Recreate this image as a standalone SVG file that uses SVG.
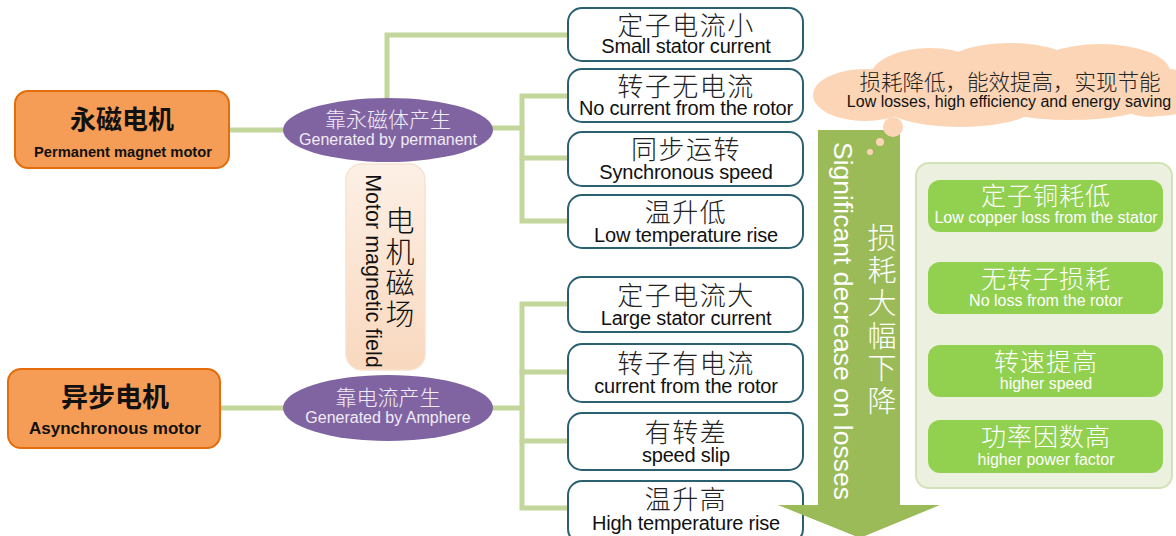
<svg xmlns="http://www.w3.org/2000/svg" width="1176" height="536" viewBox="0 0 1176 536">
<style>
.conn{fill:none;stroke:#C3D69B;stroke-width:5;stroke-linecap:round}
.motor{fill:#F59D56;stroke:#E46C0A;stroke-width:2}
.mzh{font-family:"Noto Sans CJK SC",sans-serif;font-weight:bold;fill:#111;text-anchor:middle}
.men{font-family:"Liberation Sans",Arial,sans-serif;font-weight:bold;fill:#111;text-anchor:middle}
.ell{fill:#8064A2}
.ezh{font-family:"Noto Sans CJK SC",sans-serif;font-weight:300;font-size:21px;fill:#F2ECF7;text-anchor:middle}
.een{font-family:"Liberation Sans",Arial,sans-serif;font-size:16px;fill:#F2ECF7;text-anchor:middle}
.box{fill:#fff;stroke:#2B6070;stroke-width:2}
.bzh{font-family:"Noto Sans CJK SC",sans-serif;font-weight:300;font-size:26px;letter-spacing:1.5px;fill:#222;text-anchor:middle}
.ben{font-family:"Liberation Sans",Arial,sans-serif;font-size:20px;fill:#111;text-anchor:middle;letter-spacing:-0.2px}
.gbox{fill:#92D050}
.gzh{font-family:"Noto Sans CJK SC",sans-serif;font-weight:300;font-size:25px;letter-spacing:1px;fill:#fff;text-anchor:middle}
.gen{font-family:"Liberation Sans",Arial,sans-serif;font-size:16px;fill:#fff;text-anchor:middle}
.cloud{fill:#FBD5B5}
.vzh{font-family:"Noto Sans CJK SC",sans-serif;font-weight:300;text-anchor:middle;writing-mode:vertical-rl}
</style>
<defs>
<linearGradient id="peach" x1="0" y1="0" x2="0" y2="1">
<stop offset="0" stop-color="#FDF0E6"/>
<stop offset="1" stop-color="#F9D8BE"/>
</linearGradient>
</defs>

<g id="connectors">
<path class="conn" d="M229,130 H283"/>
<path class="conn" d="M387,98 V35 H568"/>
<path class="conn" d="M492,128 H522"/>
<path class="conn" d="M568,96 H522 V221 H568"/>
<path class="conn" d="M522,158 H568"/>
<path class="conn" d="M220,408 H283"/>
<path class="conn" d="M492,408 H522"/>
<path class="conn" d="M568,304 H522 V508 H568"/>
<path class="conn" d="M522,372 H568"/>
<path class="conn" d="M522,441 H568"/>
</g>

<g id="pm-motor">
<rect class="motor" x="15" y="91" width="214" height="77" rx="13"/>
<text class="mzh" x="122" y="129" font-size="26">永磁电机</text>
<text class="men" x="123" y="157" font-size="14.7">Permanent magnet motor</text>
</g>
<g id="async-motor">
<rect class="motor" x="8" y="369" width="212" height="79" rx="13"/>
<text class="mzh" x="115" y="407" font-size="27">异步电机</text>
<text class="men" x="115" y="434" font-size="17">Asynchronous motor</text>
</g>

<g id="field-label">
<rect x="346" y="164" width="79" height="206" rx="16" fill="url(#peach)" stroke="#F8E2D0" stroke-width="1.5"/>
<text transform="translate(373,271) rotate(90)" font-family="Liberation Sans, Arial, sans-serif" font-size="21.5" fill="#111" text-anchor="middle" dominant-baseline="central">Motor  magnetic field</text>
<text class="vzh" x="400" y="268" font-size="29" letter-spacing="2" fill="#111">电机磁场</text>
</g>

<g id="by-permanent">
<ellipse class="ell" cx="388" cy="130" rx="105" ry="32"/>
<text class="ezh" x="388" y="127">靠永磁体产生</text>
<text class="een" x="388" y="145">Generated by permanent</text>
</g>
<g id="by-ampere">
<ellipse class="ell" cx="388" cy="408" rx="105" ry="33"/>
<text class="ezh" x="388" y="405">靠电流产生</text>
<text class="een" x="388" y="423">Generated by Amphere</text>
</g>

<g id="b1"><rect class="box" x="568" y="8" width="235" height="53" rx="14"/><text class="bzh" x="686" y="35">定子电流小</text><text class="ben" x="686" y="53">Small stator current</text></g>
<g id="b2"><rect class="box" x="568" y="69" width="235" height="53" rx="14"/><text class="bzh" x="686" y="96">转子无电流</text><text class="ben" x="686" y="115">No current from the rotor</text></g>
<g id="b3"><rect class="box" x="568" y="132" width="235" height="54" rx="14"/><text class="bzh" x="686" y="159">同步运转</text><text class="ben" x="686" y="179">Synchronous speed</text></g>
<g id="b4"><rect class="box" x="568" y="195" width="235" height="53" rx="14"/><text class="bzh" x="686" y="222">温升低</text><text class="ben" x="686" y="242">Low temperature rise</text></g>
<g id="b5"><rect class="box" x="568" y="277" width="235" height="55" rx="14"/><text class="bzh" x="686" y="305">定子电流大</text><text class="ben" x="686" y="325">Large stator current</text></g>
<g id="b6"><rect class="box" x="568" y="344" width="235" height="58" rx="14"/><text class="bzh" x="686" y="373">转子有电流</text><text class="ben" x="686" y="393">current from the rotor</text></g>
<g id="b7"><rect class="box" x="568" y="413" width="235" height="57" rx="14"/><text class="bzh" x="686" y="442">有转差</text><text class="ben" x="686" y="462">speed slip</text></g>
<g id="b8"><rect class="box" x="568" y="481" width="235" height="62" rx="14"/><text class="bzh" x="686" y="509">温升高</text><text class="ben" x="686" y="530">High temperature rise</text></g>

<g id="loss-arrow">
<path d="M818,130 H900 V505 H940 L860,538 L778,505 H818 Z" fill="#9BBB59"/>
<text transform="translate(843,321) rotate(90)" font-family="Liberation Sans, Arial, sans-serif" font-size="26.5" fill="#fff" text-anchor="middle" dominant-baseline="central">Significant decrease on losses</text>
<text class="vzh" x="882" y="321" font-size="29" letter-spacing="3.6" fill="#fff">损耗大幅下降</text>
</g>

<g id="cloud">
<g class="cloud">
<ellipse cx="865" cy="95" rx="52" ry="26"/>
<ellipse cx="930" cy="78" rx="60" ry="30"/>
<ellipse cx="1010" cy="70" rx="70" ry="27"/>
<ellipse cx="1100" cy="72" rx="70" ry="28"/>
<ellipse cx="1160" cy="92" rx="40" ry="24"/>
<ellipse cx="960" cy="104" rx="78" ry="23"/>
<ellipse cx="1070" cy="102" rx="80" ry="18"/>
<ellipse cx="1150" cy="102" rx="30" ry="15"/>
<circle cx="893" cy="127" r="10"/>
<circle cx="880" cy="142" r="4"/>
<circle cx="870" cy="152" r="3"/>
</g>
<text x="1010" y="90" font-family="Noto Sans CJK SC, sans-serif" font-weight="300" font-size="21.5" fill="#222" text-anchor="middle">损耗降低，能效提高，实现节能</text>
<text x="1009" y="107" font-family="Liberation Sans, Arial, sans-serif" font-size="16" fill="#111" text-anchor="middle">Low losses, high efficiency and energy saving</text>
</g>

<g id="benefits">
<rect x="916" y="163" width="256" height="325" rx="13" fill="#EBF1DE" stroke="#D3E2B6" stroke-width="2"/>
<g id="g1"><rect class="gbox" x="928" y="180" width="235" height="52" rx="12"/><text class="gzh" x="1046" y="205">定子铜耗低</text><text class="gen" x="1046" y="223">Low copper loss from the stator</text></g>
<g id="g2"><rect class="gbox" x="928" y="262" width="235" height="52" rx="12"/><text class="gzh" x="1046" y="288">无转子损耗</text><text class="gen" x="1046" y="306">No loss from the rotor</text></g>
<g id="g3"><rect class="gbox" x="928" y="345" width="235" height="52" rx="12"/><text class="gzh" x="1046" y="371">转速提高</text><text class="gen" x="1046" y="389">higher speed</text></g>
<g id="g4"><rect class="gbox" x="928" y="420" width="235" height="53" rx="12"/><text class="gzh" x="1046" y="446">功率因数高</text><text class="gen" x="1046" y="465">higher power factor</text></g>
</g>
</svg>
